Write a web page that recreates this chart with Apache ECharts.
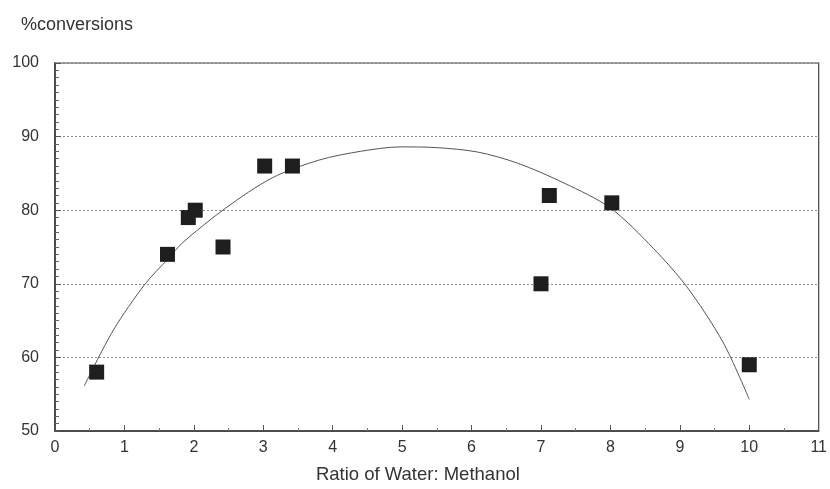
<!DOCTYPE html>
<html>
<head>
<meta charset="utf-8">
<script src="https://cdn.jsdelivr.net/npm/echarts@6/dist/echarts.min.js"></script>
<style>html,body{margin:0;padding:0;background:#fff}#c{width:830px;height:489px}</style>
</head>
<body>
<div id="c"></div>
<script>
// Observed data points (ratio, %conversion)
const ratioX = [0.6, 1.62, 1.92, 2.02, 2.42, 3.02, 3.42, 7.0, 7.12, 8.02, 10.0];
const conversionY = [58, 74, 79, 80, 75, 86, 86, 70, 82, 81, 59];
// Fitted curve
const curveX = [0.42, 0.84, 1.30, 1.63, 1.84, 2.46, 3.13, 3.80, 4.4, 4.97, 5.5, 6.09, 6.66, 7.33, 8.0, 8.62, 9.10, 9.62, 10.0];
const curveY = [56.1, 63.7, 70.0, 73.4, 75.6, 80.3, 84.4, 86.8, 88.0, 88.6, 88.5, 87.9, 86.4, 83.7, 80.3, 74.8, 69.6, 62.1, 54.3];
const xTicks = [0, 11, 1];
const yTicks = [50, 100, 10];

const font = 'Liberation Sans, Arial, sans-serif';
const chart = echarts.init(document.getElementById('c'), null, {renderer: 'canvas'});
chart.setOption({
  animation: false,
  backgroundColor: '#fff',
  title: {
    text: '%conversions', left: 16, top: 11,
    textStyle: {fontFamily: font, fontSize: 18, fontWeight: 'normal', color: '#333'}
  },
  grid: {left: 55, right: 5, top: 63, bottom: 58, show: true, borderColor: '#444', borderWidth: 1.2, backgroundColor: 'transparent'},
  xAxis: {
    type: 'value', min: xTicks[0], max: xTicks[1], interval: xTicks[2],
    name: 'Ratio of Water: Methanol', nameLocation: 'middle', nameGap: 34,
    nameTextStyle: {fontFamily: font, fontSize: 18.5, color: '#333', padding: [0, 38, 0, 0]},
    axisLine: {show: true, onZero: false, lineStyle: {color: '#333', width: 1.5}},
    axisTick: {show: true, inside: true, length: 6, lineStyle: {color: '#555'}},
    minorTick: {show: true, splitNumber: 2, length: 3, lineStyle: {color: '#777'}},
    axisLabel: {fontFamily: font, fontSize: 16, color: '#333', margin: 9},
    splitLine: {show: false}
  },
  yAxis: {
    type: 'value', min: yTicks[0], max: yTicks[1], interval: yTicks[2],
    axisLine: {show: true, onZero: false, lineStyle: {color: '#333', width: 1.5}},
    axisTick: {show: true, inside: true, length: 6, lineStyle: {color: '#555'}},
    minorTick: {show: true, splitNumber: 10, length: 4, lineStyle: {color: '#666'}},
    axisLabel: {fontFamily: font, fontSize: 16, color: '#333', margin: 16},
    splitLine: {show: true, lineStyle: {type: [2, 2], color: '#888', width: 1}}
  },
  series: [
    {
      type: 'line', data: curveX.map((x, i) => [x, curveY[i]]),
      smooth: 0.3, showSymbol: false, symbol: 'none',
      lineStyle: {color: '#555', width: 1}, z: 2
    },
    {
      type: 'scatter', data: ratioX.map((x, i) => [x, conversionY[i]]),
      symbol: 'rect', symbolSize: 15,
      itemStyle: {color: '#1e1e1e', opacity: 1}, z: 3
    }
  ]
});
</script>
</body>
</html>
